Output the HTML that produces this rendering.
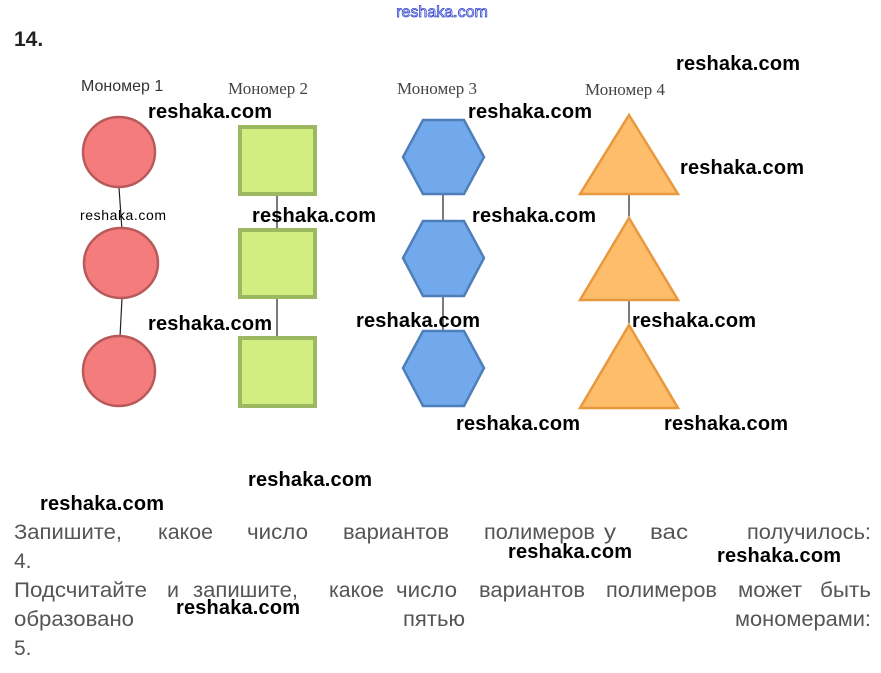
<!DOCTYPE html>
<html><head><meta charset="utf-8"><style>
html,body{margin:0;padding:0;background:#fff;width:881px;height:673px;overflow:hidden}
svg{display:block}
.w{font-family:"Liberation Sans",sans-serif;font-weight:bold;font-size:20px;fill:#000}
.t{font-family:"Liberation Sans",sans-serif;font-size:21px;fill:#555}
.lab{font-family:"Liberation Serif",serif;font-size:17px;fill:#444}
</style></head><body>
<svg width="881" height="673" viewBox="0 0 881 673" xmlns="http://www.w3.org/2000/svg">
<text x="442" y="17" text-anchor="middle" font-family="Liberation Sans,sans-serif" font-size="16" fill="#fff" stroke="#3344cc" stroke-width="0.8">reshaka.com</text>
<text x="14" y="46" font-family="Liberation Sans,sans-serif" font-weight="bold" font-size="21" fill="#222">14.</text>

<text x="81" y="91" font-family="Liberation Sans,sans-serif" font-size="16" fill="#333">Мономер 1</text>
<text class="lab" x="228" y="94">Мономер 2</text>
<text class="lab" x="397" y="94">Мономер 3</text>
<text class="lab" x="585" y="95">Мономер 4</text>

<g stroke="#222" stroke-width="1.2">
<line x1="119" y1="188" x2="122" y2="230"/><line x1="122" y1="298" x2="120" y2="337"/>
<line x1="277" y1="194" x2="277" y2="229"/><line x1="277" y1="297" x2="277" y2="337"/>
<line x1="443" y1="194" x2="443" y2="220"/><line x1="443" y1="296" x2="443" y2="330"/>
<line x1="629" y1="194" x2="629" y2="218"/><line x1="629" y1="300" x2="629" y2="325"/>
</g>
<g fill="#f47c7c" stroke="#b85a5a" stroke-width="2.5">
<ellipse cx="119" cy="152" rx="36" ry="35"/>
<ellipse cx="121" cy="263" rx="37" ry="35"/>
<ellipse cx="119" cy="371" rx="36" ry="35"/>
</g>
<g fill="#d3ee80" stroke="#9cb863" stroke-width="4">
<rect x="240" y="127" width="75" height="67"/>
<rect x="240" y="230" width="75" height="67"/>
<rect x="240" y="338" width="75" height="68"/>
</g>
<g fill="#72a8ec" stroke="#4f7fb8" stroke-width="2.5">
<polygon points="423,120 464,120 484,157 464,194 423,194 403,157"/>
<polygon points="423,221 464,221 484,258 464,296 423,296 403,258"/>
<polygon points="423,331 464,331 484,368 464,406 423,406 403,368"/>
</g>
<g fill="#fdbd6a" stroke="#e8983e" stroke-width="2.5">
<polygon points="629,115 678,194 580,194"/>
<polygon points="629,218 678,300 580,300"/>
<polygon points="629,325 678,408 580,408"/>
</g>

<g class="w">
<text x="676" y="70" textLength="124">reshaka.com</text>
<text x="148" y="118" textLength="124">reshaka.com</text>
<text x="468" y="118" textLength="124">reshaka.com</text>
<text x="680" y="174" textLength="124">reshaka.com</text>
<text x="80" y="220" textLength="86" font-size="14" font-weight="normal">reshaka.com</text>
<text x="252" y="222" textLength="124">reshaka.com</text>
<text x="472" y="222" textLength="124">reshaka.com</text>
<text x="148" y="330" textLength="124">reshaka.com</text>
<text x="356" y="327" textLength="124">reshaka.com</text>
<text x="632" y="327" textLength="124">reshaka.com</text>
<text x="456" y="430" textLength="124">reshaka.com</text>
<text x="664" y="430" textLength="124">reshaka.com</text>
<text x="248" y="486" textLength="124">reshaka.com</text>
<text x="40" y="510" textLength="124">reshaka.com</text>
<text x="508" y="558" textLength="124">reshaka.com</text>
<text x="717" y="562" textLength="124">reshaka.com</text>
<text x="176" y="614" textLength="124">reshaka.com</text>
</g>

<g class="t" lengthAdjust="spacingAndGlyphs">
<text x="14" y="539" textLength="108" lengthAdjust="spacingAndGlyphs">Запишите,</text>
<text x="158" y="539" textLength="55" lengthAdjust="spacingAndGlyphs">какое</text>
<text x="247" y="539" textLength="61" lengthAdjust="spacingAndGlyphs">число</text>
<text x="343" y="539" textLength="106" lengthAdjust="spacingAndGlyphs">вариантов</text>
<text x="484" y="539" textLength="111" lengthAdjust="spacingAndGlyphs">полимеров</text>
<text x="604" y="539" textLength="12" lengthAdjust="spacingAndGlyphs">у</text>
<text x="650" y="539" textLength="38" lengthAdjust="spacingAndGlyphs">вас</text>
<text x="747" y="539" textLength="124" lengthAdjust="spacingAndGlyphs">получилось:</text>
<text x="14" y="568">4.</text>
<text x="14" y="597" textLength="133" lengthAdjust="spacingAndGlyphs">Подсчитайте</text>
<text x="167" y="597" textLength="12" lengthAdjust="spacingAndGlyphs">и</text>
<text x="193" y="597" textLength="105" lengthAdjust="spacingAndGlyphs">запишите,</text>
<text x="329" y="597" textLength="55" lengthAdjust="spacingAndGlyphs">какое</text>
<text x="396" y="597" textLength="61" lengthAdjust="spacingAndGlyphs">число</text>
<text x="479" y="597" textLength="106" lengthAdjust="spacingAndGlyphs">вариантов</text>
<text x="606" y="597" textLength="111" lengthAdjust="spacingAndGlyphs">полимеров</text>
<text x="738" y="597" textLength="64" lengthAdjust="spacingAndGlyphs">может</text>
<text x="820" y="597" textLength="51" lengthAdjust="spacingAndGlyphs">быть</text>
<text x="14" y="626" textLength="120" lengthAdjust="spacingAndGlyphs">образовано</text>
<text x="403" y="626" textLength="62" lengthAdjust="spacingAndGlyphs">пятью</text>
<text x="735" y="626" textLength="136" lengthAdjust="spacingAndGlyphs">мономерами:</text>
<text x="14" y="655">5.</text>
</g>
</svg>
</body></html>
